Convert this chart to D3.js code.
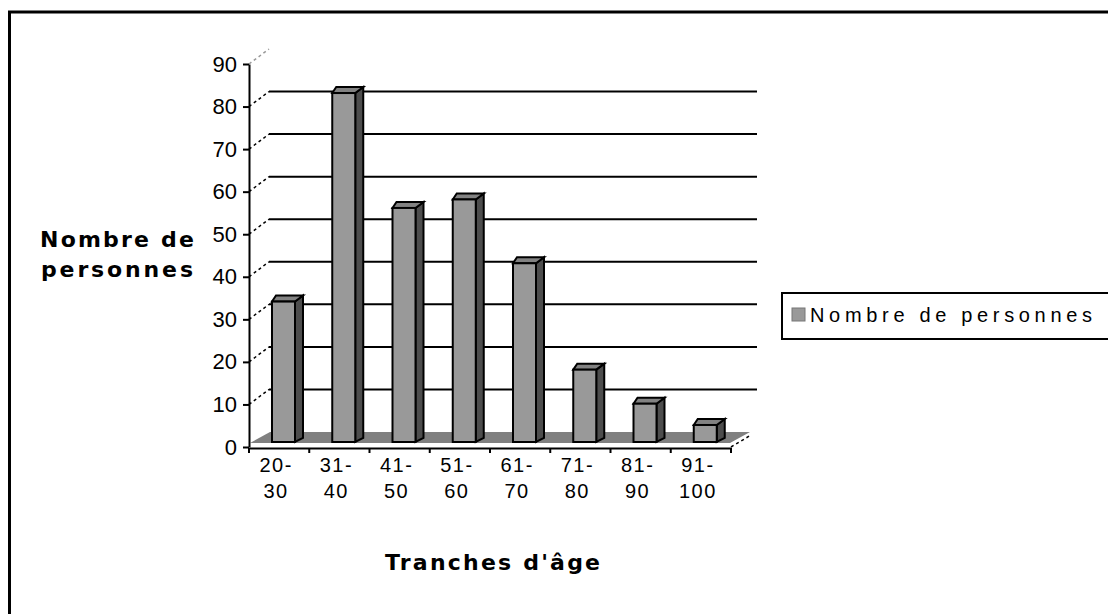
<!DOCTYPE html>
<html>
<head>
    <script src="https://d3js.org/d3.v7.min.js"></script>
    <style>
        body { margin: 0; background: #fff; }
        svg { display: block; }
    </style>
</head>
<body>
    <script>
        // chart data
        const categories = ['20-30', '31-40', '41-50', '51-60', '61-70', '71-80', '81-90', '91-100'];
        const labelTop = ['20-', '31-', '41-', '51-', '61-', '71-', '81-', '91-'];
        const labelBottom = ['30', '40', '50', '60', '70', '80', '90', '100'];
        const values = [33, 82, 55, 57, 42, 17, 9, 4];
        const yTicks = [0, 10, 20, 30, 40, 50, 60, 70, 80, 90];
        const seriesName = 'Nombre de personnes';

        const W = 1108, H = 614;
        const svg = d3.select('body').append('svg')
            .attr('width', W)
            .attr('height', H);

        // outer frame (runs off the right and bottom edges)
        svg.append('rect')
            .attr('x', 9.5).attr('y', 12)
            .attr('width', 1300).attr('height', 700)
            .attr('fill', 'none')
            .attr('stroke', '#000')
            .attr('stroke-width', 3);

        const x0 = 249, x1 = 731;
        const xScale = d3.scaleBand()
            .domain(categories)
            .range([x0, x1])
            .padding(0);

        const yScale = d3.scaleLinear()
            .domain([0, 90])
            .range([447, 64]);

        // 3D offsets
        const wallDx = 20, wallDy = -15;
        const barDy = -5;
        const wallRight = 757;

        // back wall gridlines + diagonal connectors
        const grid = svg.append('g');
        yTicks.filter(t => t > 0 && t < 90).forEach(t => {
            const y = yScale(t) + wallDy;
            grid.append('line')
                .attr('x1', x0 + wallDx).attr('x2', wallRight)
                .attr('y1', y).attr('y2', y)
                .attr('stroke', '#000')
                .attr('stroke-width', 2);
        });
        yTicks.filter(t => t > 0).forEach(t => {
            grid.append('line')
                .attr('x1', x0).attr('y1', yScale(t))
                .attr('x2', x0 + wallDx).attr('y2', yScale(t) + wallDy)
                .attr('stroke', t === 90 ? '#999' : '#000')
                .attr('stroke-width', 1.5)
                .attr('stroke-dasharray', '3,3');
        });

        // floor
        const fy0 = yScale(0) + barDy + 1, fy1 = yScale(0) + wallDy;
        svg.append('path')
            .attr('d', `M${x0 + 1},${fy0} L${x0 + wallDx + 1},${fy1} L${x1 + 19},${fy1} L${x1 - 1},${fy0} Z`)
            .attr('fill', '#808080');
        svg.append('line')
            .attr('x1', x1).attr('y1', yScale(0))
            .attr('x2', x1 + wallDx).attr('y2', yScale(0) + wallDy + 3)
            .attr('stroke', '#000')
            .attr('stroke-width', 1.5)
            .attr('stroke-dasharray', '3,3');

        // bars
        const faceW = 23, sideW = 8, topH = 6, faceOff = 23;
        const bars = svg.append('g')
            .selectAll('g')
            .data(categories.map((c, i) => ({ cat: c, v: values[i] })))
            .join('g');

        bars.each(function (d) {
            const g = d3.select(this);
            const left = xScale(d.cat) + faceOff;
            const right = left + faceW;
            const base = yScale(0) + barDy;
            const top = yScale(d.v) + barDy;
            // side face
            g.append('path')
                .attr('d', `M${right},${top} L${right + sideW},${top - topH} L${right + sideW},${base - topH + 2} L${right},${base} Z`)
                .attr('fill', '#4d4d4d')
                .attr('stroke', '#000')
                .attr('stroke-width', 2);
            // top face
            g.append('path')
                .attr('d', `M${left},${top} L${left + sideW / 2},${top - topH} L${right + sideW},${top - topH} L${right},${top} Z`)
                .attr('fill', '#828282')
                .attr('stroke', '#000')
                .attr('stroke-width', 2);
            // front face
            g.append('rect')
                .attr('x', left).attr('y', top)
                .attr('width', faceW).attr('height', base - top)
                .attr('fill', '#999999')
                .attr('stroke', '#000')
                .attr('stroke-width', 2);
        });

        // y axis
        const yAxis = svg.append('g')
            .attr('transform', `translate(${x0},0)`)
            .call(d3.axisLeft(yScale).tickValues(yTicks).tickSize(6).tickPadding(6).tickSizeOuter(0));
        yAxis.select('.domain').attr('stroke', '#000').attr('stroke-width', 2);
        yAxis.selectAll('.tick line').attr('stroke', '#000').attr('stroke-width', 2);
        yAxis.selectAll('.tick text')
            .attr('font-family', 'Liberation Sans, Arial, sans-serif')
            .attr('font-size', 22)
            .attr('fill', '#000');

        // x axis line and boundary ticks
        const xAxis = svg.append('g')
            .attr('transform', `translate(0,${yScale(0) + 1})`)
            .call(d3.axisBottom(xScale).tickSize(0).tickFormat(''));
        xAxis.select('.domain').attr('stroke', '#000').attr('stroke-width', 2);
        const edges = categories.map(c => xScale(c)).concat([x1]);
        xAxis.selectAll('.edge')
            .data(edges)
            .join('line')
            .attr('class', 'edge')
            .attr('x1', d => d).attr('x2', d => d)
            .attr('y1', 0).attr('y2', 5)
            .attr('stroke', '#000')
            .attr('stroke-width', 2);

        // two-line category labels
        const xl = svg.append('g')
            .attr('font-family', 'Liberation Sans, Arial, sans-serif')
            .attr('font-size', 20)
            .attr('letter-spacing', 1.5)
            .attr('text-anchor', 'middle');
        categories.forEach((c, i) => {
            const cx = xScale(c) + xScale.bandwidth() / 2 - 3;
            xl.append('text').attr('x', cx).attr('y', 472).text(labelTop[i]);
            xl.append('text').attr('x', cx).attr('y', 498).text(labelBottom[i]);
        });

        // axis titles
        const title = svg.append('g')
            .attr('font-family', 'DejaVu Sans, Verdana, sans-serif')
            .attr('font-weight', 'bold')
            .attr('font-size', 22)
            .attr('fill', '#000');
        title.append('text')
            .attr('x', 40).attr('y', 247)
            .attr('textLength', 154).attr('lengthAdjust', 'spacing')
            .text('Nombre de');
        title.append('text')
            .attr('x', 41).attr('y', 277)
            .attr('textLength', 152).attr('lengthAdjust', 'spacing')
            .text('personnes');
        title.append('text')
            .attr('x', 385).attr('y', 570)
            .attr('textLength', 215).attr('lengthAdjust', 'spacing')
            .text("Tranches d'âge");

        // legend
        const legend = svg.append('g');
        legend.append('rect')
            .attr('x', 782).attr('y', 293)
            .attr('width', 400).attr('height', 46)
            .attr('fill', '#fff')
            .attr('stroke', '#000')
            .attr('stroke-width', 2);
        legend.append('rect')
            .attr('x', 792).attr('y', 308)
            .attr('width', 13).attr('height', 13)
            .attr('fill', '#999999')
            .attr('stroke', '#777')
            .attr('stroke-width', 1);
        legend.append('text')
            .attr('x', 810).attr('y', 322)
            .attr('font-family', 'Liberation Sans, Arial, sans-serif')
            .attr('font-size', 20)
            .attr('textLength', 282).attr('lengthAdjust', 'spacing')
            .text(seriesName);
    </script>
</body>
</html>
